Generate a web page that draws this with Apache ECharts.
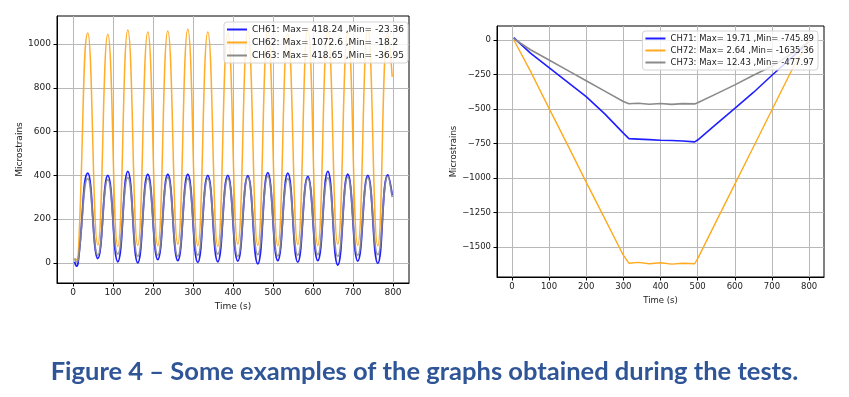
<!DOCTYPE html>
<html><head><meta charset="utf-8">
<script src="https://cdn.jsdelivr.net/npm/echarts@6/dist/echarts.min.js"></script>
<style>html,body{margin:0;padding:0;background:#fff}#c{width:849px;height:397px}</style>
</head><body><div id="c"></div>
<script>
// ---- Left chart (CH61-63), time in s, values in microstrains (peaks/troughs)
const leftTime = [4, 9, 13, 37, 62, 87, 112, 137, 162, 187, 212, 237, 262, 287, 312, 337, 362, 387, 412, 437, 462, 487, 512, 537, 562, 587, 612, 637, 662, 687, 712, 737, 762, 787, 798];
const ch61 = [5, -15, 5, 410, 20, 400, 5, 418, 0, 405, 15, 405, 10, 405, 2, 400, 5, 400, 8, 398, -5, 412, 10, 410, 3, 395, 10, 418, -10, 405, 8, 400, -2, 402, 310];
const ch62 = [20, 15, 30, 1050, 82, 1045, 75, 1064, 80, 1055, 78, 1060, 85, 1068, 78, 1055, 76, 1050, 86, 1062, 80, 1058, 78, 1048, 84, 1072, 79, 1060, 86, 1055, 80, 1065, 78, 1050, 850];
const ch63 = [20, 5, 15, 385, 35, 380, 40, 390, 30, 385, 35, 390, 30, 385, 35, 385, 40, 385, 30, 390, 38, 395, 32, 385, 35, 385, 38, 388, 30, 392, 35, 388, 38, 395, 300];

// ---- Right chart (CH71-73)
const rightTime = [5, 10, 50, 100, 150, 200, 250, 300, 315, 340, 370, 400, 430, 460, 492, 500, 550, 600, 650, 700, 750, 798];
const ch71 = [18, 5, -95, -200, -305, -410, -535, -675, -715, -718, -722, -726, -728, -732, -738, -725, -610, -495, -380, -255, -135, -15];
const ch72 = [2, -10, -225, -495, -760, -1030, -1295, -1560, -1618, -1612, -1622, -1615, -1625, -1618, -1622, -1585, -1315, -1045, -775, -505, -235, -5];
const ch73 = [10, 0, -70, -145, -220, -295, -370, -445, -462, -458, -465, -460, -466, -461, -463, -455, -390, -325, -255, -190, -105, -15];

// ---- Ticks and labels
const xTicks = [0, 100, 200, 300, 400, 500, 600, 700, 800];
const leftYTicks = [0, 200, 400, 600, 800, 1000];
const rightYTicks = [-1500, -1250, -1000, -750, -500, -250, 0];
const leftNames = ['CH61: Max= 418.24 ,Min= -23.36', 'CH62: Max= 1072.6 ,Min= -18.2', 'CH63: Max= 418.65 ,Min= -36.95'];
const rightNames = ['CH71: Max= 19.71 ,Min= -745.89', 'CH72: Max= 2.64 ,Min= -1635.36', 'CH73: Max= 12.43 ,Min= -477.97'];
const caption = 'Figure 4 \u2013 Some examples of the graphs obtained during the tests.';

const BLUE = '#1f1fff', ORANGE = '#ffa91f', GRAY = '#8a8a8a';
const FONT = 'DejaVu Sans';
const pair = (t, v) => t.map((x, i) => [x, v[i]]);
const minus = v => String(v).replace('-', '\u2212');

function xAxis(gi, nameGap, fs) {
  return {
    type: 'value', gridIndex: gi, min: -40, max: 840,
    name: 'Time (s)', nameLocation: 'middle', nameGap: nameGap,
    nameTextStyle: { fontFamily: FONT, fontSize: fs, color: '#222' },
    axisLine: { show: true, onZero: false, lineStyle: { color: '#000', width: 1 } },
    axisTick: { show: true, length: 3.5, customValues: xTicks, lineStyle: { color: '#000' } },
    axisLabel: { customValues: xTicks, fontFamily: FONT, fontSize: fs, color: '#222', margin: 5 },
    splitLine: { show: true, lineStyle: { color: '#b8b8b8', width: 1 } }
  };
}
function yAxis(gi, min, max, ticks, nameGap, fmt, fs) {
  return {
    type: 'value', gridIndex: gi, min: min, max: max,
    name: 'Microstrains', nameLocation: 'middle', nameGap: nameGap,
    nameTextStyle: { fontFamily: FONT, fontSize: fs, color: '#222' },
    axisLine: { show: true, onZero: false, lineStyle: { color: '#000', width: 1 } },
    axisTick: { show: true, length: 3.5, customValues: ticks, lineStyle: { color: '#000' } },
    axisLabel: { customValues: ticks, fontFamily: FONT, fontSize: fs, color: '#222', margin: 6, formatter: fmt },
    splitLine: { show: true, lineStyle: { color: '#b8b8b8', width: 1 } }
  };
}
function legend(names, right, top, fs, gap) {
  return {
    data: names, orient: 'vertical', right: right, top: top,
    icon: 'rect', itemWidth: 20, itemHeight: 2, itemGap: gap,
    padding: [3, 4, 3, 3],
    backgroundColor: 'rgba(255,255,255,0.82)', borderColor: '#d4d4d4', borderWidth: 1, borderRadius: 3,
    textStyle: { fontFamily: FONT, fontSize: fs, color: '#222' },
    selectedMode: false
  };
}
function line(name, gi, data, color, width, smooth, opacity) {
  return {
    type: 'line', name: name, xAxisIndex: gi, yAxisIndex: gi, data: data,
    showSymbol: false, symbol: 'none', smooth: smooth, clip: true,
    lineStyle: { color: color, width: width, opacity: opacity },
    itemStyle: { color: color }
  };
}

const chart = echarts.init(document.getElementById('c'), null, { renderer: 'canvas' });
chart.setOption({
  animation: false,
  backgroundColor: '#fff',
  title: {
    text: caption, left: 'center', top: 354,
    textStyle: { fontFamily: 'Lato', fontWeight: 'bold', fontSize: 25.5, color: '#2F5597' }
  },
  grid: [
    { left: 57, top: 16, right: 440, bottom: 114, show: true, borderColor: '#000', borderWidth: 1 },
    { left: 497, top: 26, right: 25, bottom: 120, show: true, borderColor: '#000', borderWidth: 1 }
  ],
  xAxis: [xAxis(0, 17, 9), xAxis(1, 15, 8.5)],
  yAxis: [
    yAxis(0, -92, 1128, leftYTicks, 33, v => String(v), 9),
    yAxis(1, -1718, 102, rightYTicks, 37, minus, 8.5)
  ],
  legend: [legend(leftNames, 441, 22, 9, 4), legend(rightNames, 31, 31, 8.5, 3)],
  series: [
    line(leftNames[0], 0, pair(leftTime, ch61), BLUE, 1.8, 0.5, 1),
    line(leftNames[1], 0, pair(leftTime, ch62), ORANGE, 1.5, 0.5, 0.95),
    line(leftNames[2], 0, pair(leftTime, ch63), GRAY, 1.8, 0.5, 0.85),
    line(rightNames[0], 1, pair(rightTime, ch71), BLUE, 1.6, false, 1),
    line(rightNames[1], 1, pair(rightTime, ch72), ORANGE, 1.4, false, 1),
    line(rightNames[2], 1, pair(rightTime, ch73), GRAY, 1.6, false, 1)
  ]
});
</script></body></html>
